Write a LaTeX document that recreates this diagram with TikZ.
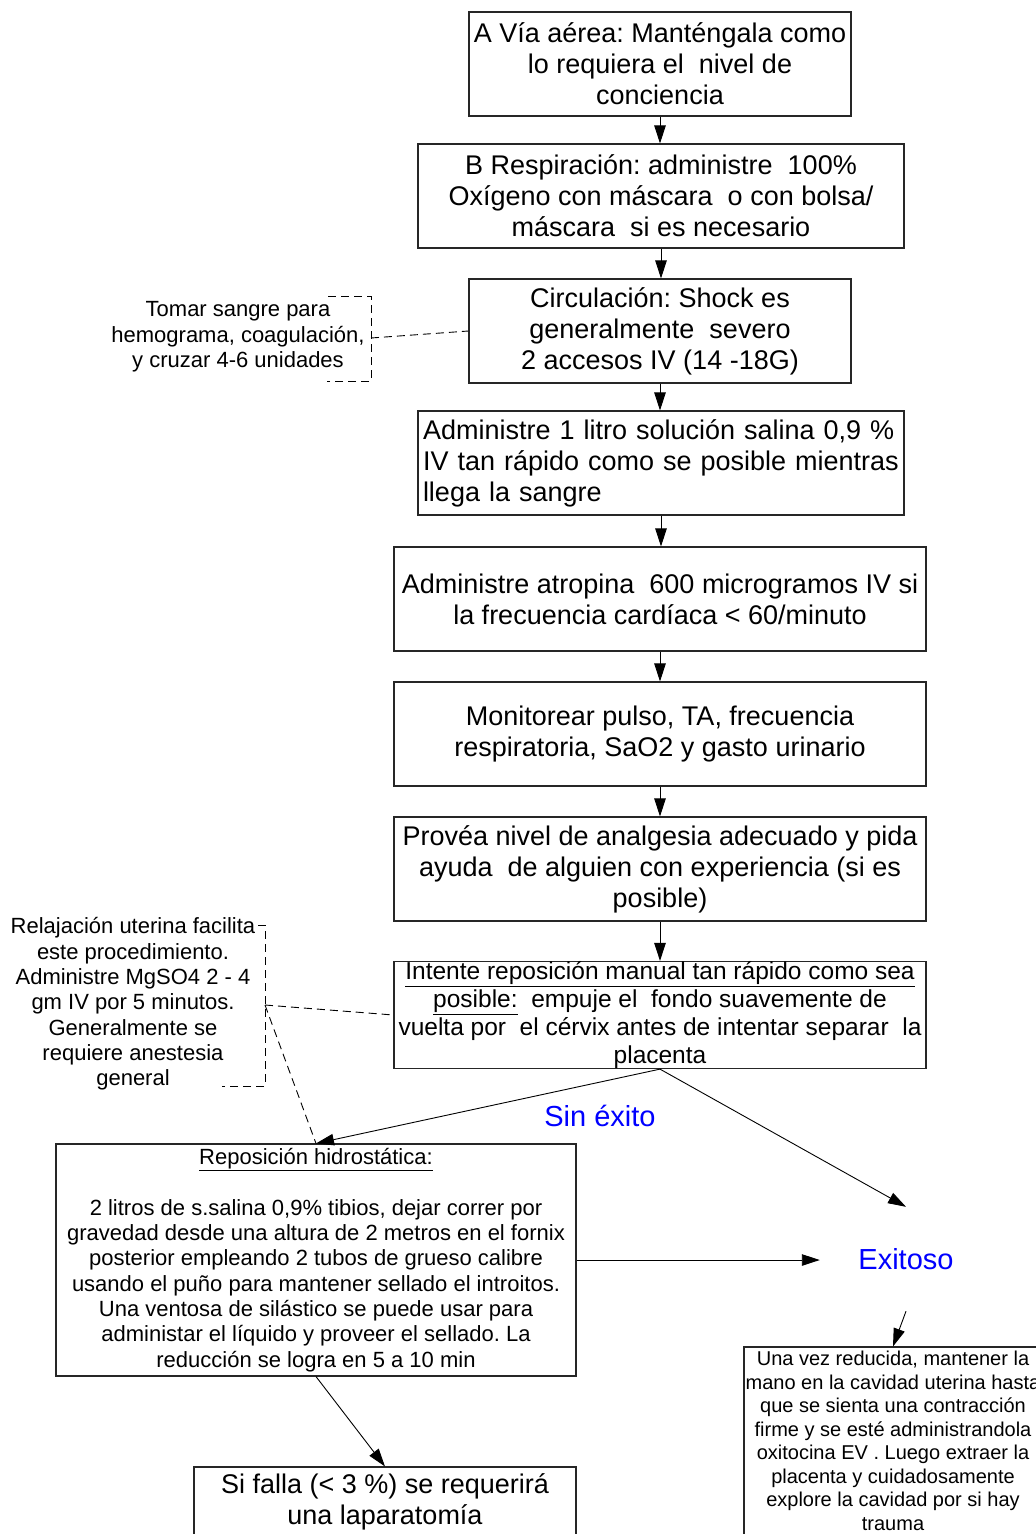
\documentclass[tikz,border=0pt]{standalone}
\usepackage{fontspec}
\setmainfont{Liberation Sans}
\usetikzlibrary{arrows.meta}
\frenchspacing

\definecolor{linkblue}{RGB}{0,0,255}

\tikzset{
  box/.style={draw=black!85, line width=1.1pt, inner sep=0pt, align=center,
    font=\fontsize{27}{31}\selectfont},
  arr/.style={-{Triangle[length=18pt,width=11.5pt]}, line width=0.9pt},
  note/.style={inner sep=0pt, align=center, font=\fontsize{22}{25.3}\selectfont},
  dashln/.style={dash pattern=on 8pt off 5pt, line width=0.9pt},
  outcome/.style={inner sep=0pt, text=linkblue, font=\fontsize{29}{33}\selectfont},
}

\begin{document}
\begin{tikzpicture}[x=1pt,y=-1pt]
\useasboundingbox (0,0) rectangle (1036,1534);
\clip (0,0) rectangle (1036,1534);

% main sequence
\node[box, minimum width=382pt, minimum height=104pt] (A) at (660,64)
  {A Vía aérea: Manténgala como\\lo requiera el\ \ nivel de\\conciencia};
\node[box, minimum width=486pt, minimum height=104pt] (B) at (661,196)
  {B Respiración: administre\ \ 100\%\\Oxígeno con máscara\ \ o con bolsa/\\máscara\ \ si es necesario};
\node[box, minimum width=382pt, minimum height=104pt] (C) at (660,331)
  {Circulación: Shock es\\generalmente\ \ severo\\2 accesos IV (14 -18G)};
\node[box, minimum width=486pt, minimum height=104pt, align=left, text width=476pt] (D) at (661,463)
  {Administre 1 litro solución salina 0,9 \%\\IV tan rápido como se posible mientras\\llega la sangre};
\node[box, minimum width=532pt, minimum height=104pt] (E) at (660,599)
  {Administre atropina\ \ 600 microgramos IV si\\la frecuencia cardíaca < 60/minuto};
\node[box, minimum width=532pt, minimum height=104pt] (F) at (660,734)
  {Monitorear pulso, TA, frecuencia\\respiratoria, SaO2 y gasto urinario};
\node[box, minimum width=532pt, minimum height=104pt] (G) at (660,869)
  {Provéa nivel de analgesia adecuado y pida\\ayuda\ \ de alguien con experiencia (si es\\posible)};
\node[box, minimum width=532pt, minimum height=104pt, font=\fontsize{24.5}{28}\selectfont] (H) at (660,1015)
  {\underline{Intente reposición manual tan rápido como sea}\\\underline{posible:}\ \ empuje el\ \ fondo suavemente de\\vuelta por\ \ el cérvix antes de intentar separar\ \ la\\placenta};

% branches
\node[box, minimum width=520pt, minimum height=232pt, font=\fontsize{22}{25.3}\selectfont] (hydro) at (316,1260)
  {\underline{Reposición hidrostática:}\\[25.3pt]2 litros de s.salina 0,9\% tibios, dejar correr por\\gravedad desde una altura de 2 metros en el fornix\\posterior empleando 2 tubos de grueso calibre\\usando el puño para mantener sellado el introitos.\\Una ventosa de silástico se puede usar para\\administar el líquido y proveer el sellado. La\\reducción se logra en 5 a 10 min};
\node[box, minimum width=382pt, minimum height=70pt] (fail) at (385,1502)
  {Si falla (< 3 \%) se requerirá\\una laparatomía};
\node[box, minimum width=298pt, minimum height=188pt, font=\fontsize{20}{23.5}\selectfont] (after) at (893,1441)
  {Una vez reducida, mantener la\\mano en la cavidad uterina hasta\\que se sienta una contracción\\firme y se esté administrandola\\oxitocina EV . Luego extraer la\\placenta y cuidadosamente\\explore la cavidad por si hay\\trauma};

\node[outcome] (fails) at (600,1116) {Sin éxito};
\node[outcome, minimum width=172pt, minimum height=104pt] (ok) at (906,1259) {Exitoso};

% side notes
\node[note] (n1) at (238,337)
  {Tomar sangre para\\hemograma, coagulación,\\y cruzar 4-6 unidades};
\node[note] (n2) at (133,1004)
  {Relajación uterina facilita\\este procedimiento.\\Administre MgSO4 2 - 4\\gm IV por 5 minutos.\\Generalmente se\\requiere anestesia\\general};

% note brackets
\coordinate (n1a) at (328,296);
\coordinate (n1b) at (371,296);
\coordinate (n1m) at (371,338);
\coordinate (n1c) at (371,381);
\coordinate (n1d) at (327,381);
\draw[dashln] (n1a) -- (n1b) -- (n1c) -- (n1d);
\draw[dashln] (n1m) -- (C.west);

\coordinate (n2a) at (258,925);
\coordinate (n2b) at (265,925);
\coordinate (n2m) at (265,1005);
\coordinate (n2c) at (265,1086);
\coordinate (n2d) at (222,1086);
\draw[dashln] (n2a) -- (n2b) -- (n2c) -- (n2d);
\draw[dashln] (n2m) -- (H.west);
\draw[dashln] (n2m) -- (hydro.north);

% flow arrows
\draw[arr] (A.south) -- (A.south |- B.north);
\draw[arr] (B.south) -- (B.south |- C.north);
\draw[arr] (C.south) -- (C.south |- D.north);
\draw[arr] (D.south) -- (D.south |- E.north);
\draw[arr] (E.south) -- (E.south |- F.north);
\draw[arr] (F.south) -- (F.south |- G.north);
\draw[arr] (G.south) -- (G.south |- H.north);
\draw[arr] (H.south) -- (hydro.north);
\draw[arr] (H.south) -- (ok.north);
\draw[arr] (hydro.east) -- (hydro.east -| ok.west);
\draw[arr] (ok.south) -- (after.north);
\draw[arr] (hydro.south) -- (fail.north);
\end{tikzpicture}
\end{document}
